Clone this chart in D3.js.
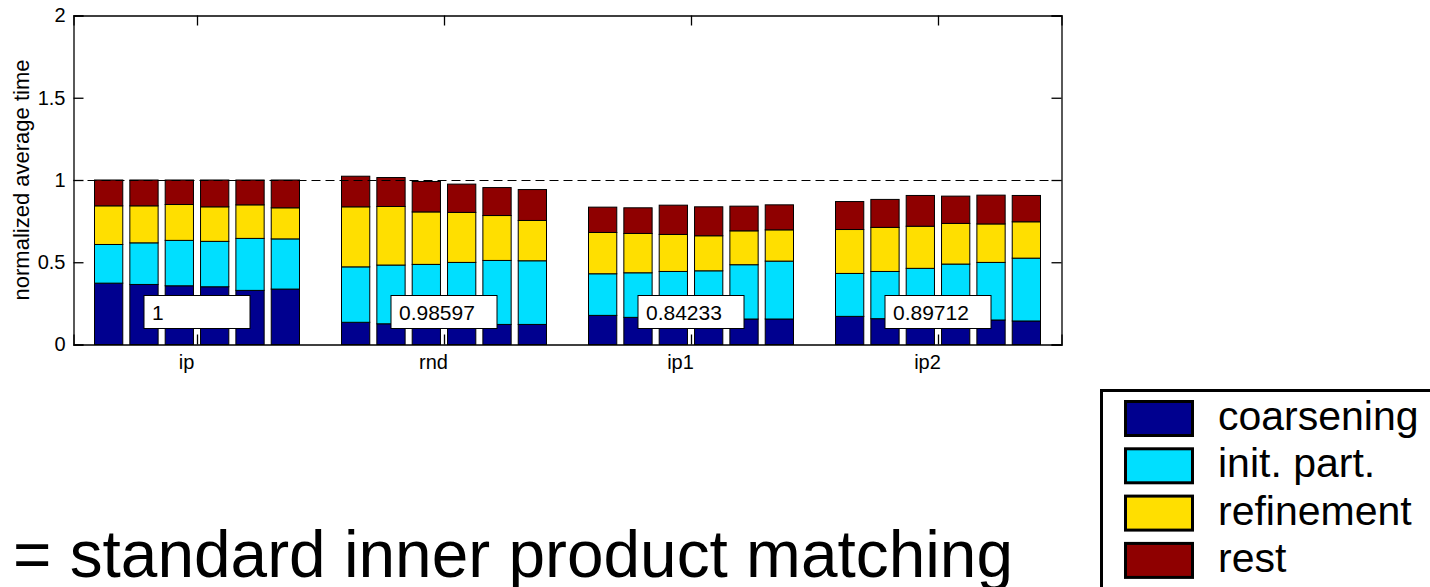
<!DOCTYPE html>
<html>
<head>
<meta charset="utf-8">
<script src="https://cdn.jsdelivr.net/npm/d3@7"></script>
<style>
  body { margin: 0; background: #fff; }
  svg { display: block; font-family: "Liberation Sans", Arial, sans-serif; }
</style>
</head>
<body>
<svg id="chart" width="1430" height="587"></svg>
<script>
// groups and box labels
const categories = ["ip", "rnd", "ip1", "ip2"];
const boxLabels = ["1", "0.98597", "0.84233", "0.89712"];
const seriesNames = ["coarsening", "init. part.", "refinement", "rest"];
const seriesColors = ["#00008f", "#00dfff", "#ffdf00", "#8f0000"];
const yTicks = [0, 0.5, 1, 1.5, 2];

// 6 bars per group (segment heights)
const coarsening = [
  0.373, 0.365, 0.357, 0.351, 0.329, 0.337,
  0.135, 0.126, 0.125, 0.125, 0.122, 0.122,
  0.177, 0.165, 0.160, 0.160, 0.155, 0.155,
  0.171, 0.157, 0.155, 0.152, 0.149, 0.143
];
const initPart = [
  0.235, 0.253, 0.276, 0.276, 0.316, 0.305,
  0.337, 0.357, 0.362, 0.374, 0.389, 0.387,
  0.253, 0.271, 0.284, 0.288, 0.330, 0.352,
  0.261, 0.287, 0.308, 0.337, 0.350, 0.382
];
const refinement = [
  0.235, 0.225, 0.218, 0.210, 0.204, 0.189,
  0.365, 0.356, 0.319, 0.304, 0.273, 0.245,
  0.251, 0.239, 0.225, 0.213, 0.206, 0.190,
  0.267, 0.268, 0.256, 0.247, 0.234, 0.221
];
const rest = [
  0.157, 0.157, 0.149, 0.163, 0.151, 0.169,
  0.186, 0.176, 0.185, 0.172, 0.170, 0.188,
  0.154, 0.156, 0.178, 0.176, 0.150, 0.152,
  0.170, 0.170, 0.187, 0.166, 0.175, 0.160
];
const barsPerGroup = 6;

const svg = d3.select("#chart");
const margin = {left: 73.5, right: 1061.5, top: 15.5, bottom: 344.5};

const x = d3.scaleLinear().domain([0.5, 4.5]).range([margin.left, margin.right]);
const y = d3.scaleLinear().domain([0, 2]).range([margin.bottom, margin.top]);
const inner = d3.scaleBand().domain(d3.range(barsPerGroup))
    .range([-102.5, 102.5]).paddingInner(0.2).paddingOuter(0);

// build rows for stacking
const rows = coarsening.map((d, i) => ({
    g: Math.floor(i / barsPerGroup),
    k: i % barsPerGroup,
    s0: d, s1: initPart[i], s2: refinement[i], s3: rest[i]
}));
const stack = d3.stack().keys(["s0", "s1", "s2", "s3"]);
const layers = stack(rows);

// bars
svg.append("g").selectAll("g")
    .data(layers)
    .join("g")
    .attr("fill", (d, i) => seriesColors[i])
    .selectAll("rect")
    .data(d => d)
    .join("rect")
    .attr("x", d => x(d.data.g + 1) + inner(d.data.k))
    .attr("width", inner.bandwidth())
    .attr("y", d => y(d[1]))
    .attr("height", d => y(d[0]) - y(d[1]))
    .attr("stroke", "#000")
    .attr("stroke-width", 1);

// dashed reference line at 1
const yOne = Math.round(y(1)) + 0.5;
svg.append("line")
    .attr("x1", margin.left).attr("x2", margin.right)
    .attr("y1", yOne).attr("y2", yOne)
    .attr("stroke", "#000").attr("stroke-dasharray", "9,5");

// axes, ticks pointing inward
const axisFont = g => g.selectAll("text")
    .attr("font-size", 20).attr("fill", "#000")
    .attr("font-family", "Liberation Sans, Arial, sans-serif");

const yLeft = svg.append("g").attr("transform", `translate(${margin.left},0)`)
    .call(d3.axisLeft(y).tickValues(yTicks).tickSize(-10).tickPadding(8).tickFormat(d => d));
yLeft.call(axisFont);

svg.append("g").attr("transform", `translate(${margin.right},0)`)
    .call(d3.axisRight(y).tickValues(yTicks).tickSize(-10).tickFormat(""));

const xBottom = svg.append("g").attr("transform", `translate(0,${margin.bottom})`)
    .call(d3.axisBottom(x).tickValues([1, 2, 3, 4]).tickSize(-10).tickPadding(10)
        .tickFormat(d => categories[d - 1]));
xBottom.call(axisFont);
xBottom.selectAll("text").attr("dx", -11);

svg.append("g").attr("transform", `translate(0,${margin.top})`)
    .call(d3.axisTop(x).tickValues([1, 2, 3, 4]).tickSize(-10).tickFormat(""));

svg.selectAll(".domain").attr("stroke", "#000").attr("stroke-width", 1.3);
svg.selectAll(".tick line").attr("stroke", "#000").attr("stroke-width", 1.3);

// y label
svg.append("text")
    .attr("transform", `translate(29,${(margin.top + margin.bottom) / 2}) rotate(-90)`)
    .attr("text-anchor", "middle")
    .attr("font-size", 22)
    .text("normalized average time");

// value boxes
const boxes = svg.append("g").selectAll("g")
    .data(boxLabels)
    .join("g")
    .attr("transform", (d, i) => `translate(${x(i + 1) - 53},295.5)`);
boxes.append("rect")
    .attr("width", 106).attr("height", 33)
    .attr("fill", "#fff").attr("stroke", "#000");
boxes.append("text")
    .attr("x", 8).attr("y", 24)
    .attr("font-size", 21)
    .text(d => d);

// legend
const legend = svg.append("g");
legend.append("rect")
    .attr("x", 1101.5).attr("y", 390.5)
    .attr("width", 340).attr("height", 220)
    .attr("fill", "#fff").attr("stroke", "#000").attr("stroke-width", 3);
const items = legend.selectAll("g.item")
    .data(seriesNames)
    .join("g")
    .attr("class", "item")
    .attr("transform", (d, i) => `translate(0,${400 + i * 47.3})`);
items.append("rect")
    .attr("x", 1125.5).attr("y", 1.5)
    .attr("width", 67).attr("height", 34)
    .attr("fill", (d, i) => seriesColors[i])
    .attr("stroke", "#000").attr("stroke-width", 3);
items.append("text")
    .attr("x", 1218).attr("y", 30)
    .attr("font-size", 41)
    .text(d => d);

// caption
svg.append("text")
    .attr("x", 13).attr("y", 577)
    .attr("font-size", 66)
    .attr("textLength", 1000)
    .attr("lengthAdjust", "spacingAndGlyphs")
    .text("= standard inner product matching");
</script>
</body>
</html>
